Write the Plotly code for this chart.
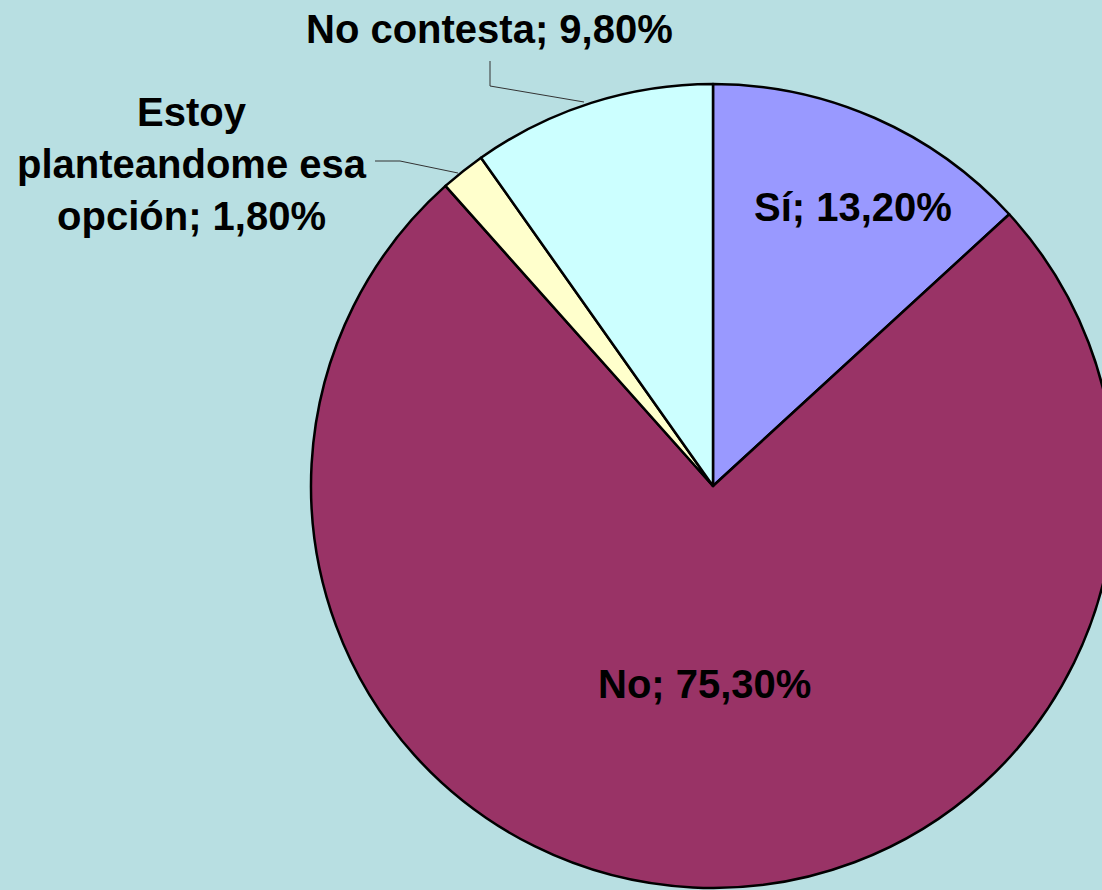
import plotly.graph_objects as go

# ---- data ----
labels = ["Sí", "No", "Estoy planteandome esa opción", "No contesta"]
values = [13.2, 75.3, 1.8, 9.8]
label_display = ["Sí", "No", "Estoy<br>planteandome esa<br>opción", "No contesta"]
colors = ["#9999FF", "#993366", "#FFFFCC", "#CCFFFF"]

# ---- layout geometry (pixels) ----
W, H = 1120, 890
cx, cy, R = 713, 486, 402
BG = "#B8DFE2"

def px(x):
    return x / W

def py(y):
    return 1 - y / H

fig = go.Figure()
fig.add_trace(go.Pie(
    labels=labels,
    values=values,
    sort=False,
    direction="clockwise",
    rotation=0,
    marker=dict(colors=colors, line=dict(color="black", width=2.5)),
    textinfo="none",
    hoverinfo="label+percent",
    showlegend=False,
    domain=dict(x=[px(cx - R), px(cx + R)], y=[py(cy + R), py(cy - R)]),
))

def fmt(v):
    return f"{v:.2f}".replace(".", ",") + "%"

label_pos = [(853, 207), (704, 684), (192, 164), (489, 29)]
for name, v, (x, y) in zip(label_display, values, label_pos):
    fig.add_annotation(
        x=px(x), y=py(y), xref="paper", yref="paper",
        text=f"<b>{name}; {fmt(v)}</b>", showarrow=False,
        xanchor="center", yanchor="middle", align="center",
        font=dict(family="Liberation Sans, Arial, sans-serif", size=40, color="black"),
    )

# leader lines
leaders = [
    [(490, 61), (490, 86), (584, 102)],
    [(375, 161), (400, 161), (458, 173)],
]
for pts in leaders:
    path = "M " + " L ".join(f"{px(x)},{py(y)}" for x, y in pts)
    fig.add_shape(type="path", path=path, xref="paper", yref="paper",
                  line=dict(color="#333333", width=1))

fig.update_layout(
    width=W, height=H,
    margin=dict(l=0, r=0, t=0, b=0),
    paper_bgcolor=BG, plot_bgcolor=BG,
)

fig.write_html(
    "out.html",
    config={"displayModeBar": False},
    post_script="document.body.style.margin='0';document.body.style.overflow='hidden';document.documentElement.style.overflow='hidden';document.body.style.background='" + BG + "';",
)
